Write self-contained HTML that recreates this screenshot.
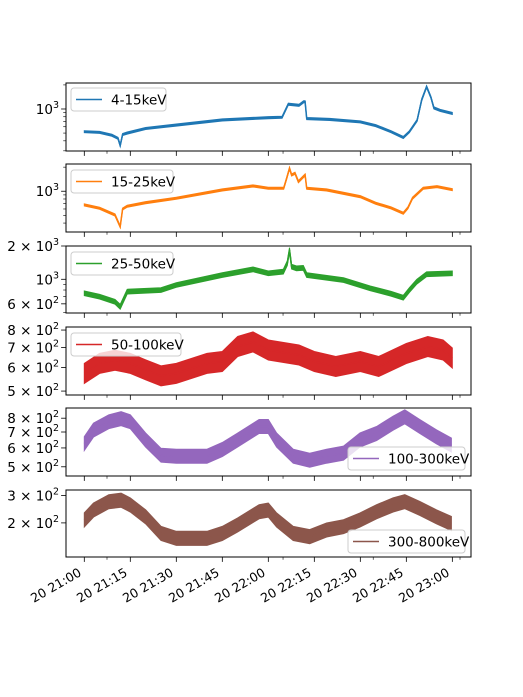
<!DOCTYPE html>
<html><head><meta charset="utf-8"><style>
html,body{margin:0;padding:0;background:#fff;}
svg{display:block;font-family:"DejaVu Sans","Liberation Sans",sans-serif;}
</style></head><body>
<svg id="chart" width="523" height="697" viewBox="0 0 523 697" xmlns="http://www.w3.org/2000/svg"></svg>
<script>
// ---- data (time in minutes after 20 21:00) ----
const t4_15 = [0,5,9,11,11.7,12.5,14,20,30,45,60,64.5,66.5,70,71.5,72,72.5,80,90,95,100,104,106,108.5,110,111.6,113,114,116,120];
const v4_15 = [520,510,470,430,350,480,500,570,630,730,780,790,1150,1110,1230,1230,760,740,690,620,520,440,520,720,1300,1900,1400,1030,960,880];
const t15_25 = [0,5,10,11.7,12.5,14,20,30,45,55,60,65,66,66.9,67.6,68.7,69.8,72,72.5,79,90,95,100,104,105.5,107,110.5,115,120];
const v15_25 = [674,613,505,361,600,650,720,818,1038,1165,1090,1090,1454,1937,1598,1679,1318,1598,1090,1038,856,708,620,531,620,818,1090,1142,1047];
const t25_50 = [0,5,10,11.7,14,25,30,45,55,60,64.9,66.2,66.9,67.6,69.2,71.4,72.5,84.5,93.2,100,104,106,108.4,111.6,120];
const v25_50 = [747,696,627,565,773,800,888,1093,1231,1133,1172,1400,1840,1300,1257,1270,1093,985,829,740,682,800,951,1110,1133];
const t50_100 = [0,5,10,15,20,25,30,40,45,50,55,60,70,75,82,90,96,105,112,117,120];
const v50_100 = [573,619,634,619,589,562,573,619,628,705,730,686,660,628,604,628,604,668,705,686,645];
const t100_300 = [0,3,8,12,15,20,25,30,40,45,50,57,60,62.7,68.1,73.5,79,84.5,89.9,95.3,100.7,104.5,109.4,114.8,119.7];
const v100_300 = [626,713,773,797,773,648,559,554,554,591,648,738,738,648,554,533,554,571,648,690,762,811,738,668,617];
const t300_800 = [0,3,8,12,15,20,25,30,40,45,50,57,60,62.7,68.1,73.5,79,84.5,89.9,95.3,100.7,104.5,109.4,114.8,119.7];
const v300_800 = [209,242,274,280,261,219,171,159,159,171,194,236,242,209,171,163,180,189,209,236,261,274,248,219,198];
const noise = [0.03,0.03,0.05,0.08,0.07,0.11];
const seriesLabels = ["4-15keV","15-25keV","25-50keV","50-100keV","100-300keV","300-800keV"];
const xTickMinutes = [0,15,30,45,60,75,90,105,120];
const xTickLabels = ["20 21:00","20 21:15","20 21:30","20 21:45","20 22:00","20 22:15","20 22:30","20 22:45","20 23:00"];
const xMinorMinutes = [7.4,64.8,94.2,122.5];

const NS="http://www.w3.org/2000/svg";
const svg=document.getElementById('chart');
function mk(tag,attrs,parent){const e=document.createElementNS(NS,tag);for(const k in attrs)e.setAttribute(k,attrs[k]);(parent||svg).appendChild(e);return e;}

const X0=66,X1=471;
function xs(t){return 84.3+t*3.067;}
const panels=[
 {top:83,bot:151,ymax:2113,k:80,color:"#1f77b4",t:t4_15,v:v4_15,leg:{x:71,y:88,w:95},
  ticks:[[1000,"10","3"]],minor:[300,400,500,600,700,800,900,2000]},
 {top:164,bot:232,ymax:2190,k:80,color:"#ff7f0e",t:t15_25,v:v15_25,leg:{x:71,y:170,w:102},
  ticks:[[1000,"10","3"]],minor:[400,500,600,700,800,900,2000]},
 {top:246,bot:313,ymax:2000,k:110.6,color:"#2ca02c",t:t25_50,v:v25_50,leg:{x:71,y:252,w:102},
  ticks:[[2000,"2 \u00d7 10","3"],[1000,"10","3"],[600,"6 \u00d7 10","2"]],minor:[500,700,800,900]},
 {top:327,bot:395,ymax:819,k:299,color:"#d62728",t:t50_100,v:v50_100,leg:{x:71,y:333,w:110},
  ticks:[[800,"8 \u00d7 10","2"],[700,"7 \u00d7 10","2"],[600,"6 \u00d7 10","2"],[500,"5 \u00d7 10","2"]],minor:[]},
 {top:408,bot:476,ymax:883,k:238,color:"#9467bd",t:t100_300,v:v100_300,leg:{x:348,y:447,w:117},
  ticks:[[800,"8 \u00d7 10","2"],[700,"7 \u00d7 10","2"],[600,"6 \u00d7 10","2"],[500,"5 \u00d7 10","2"]],minor:[]},
 {top:490,bot:557,ymax:326,k:155,color:"#8c564b",t:t300_800,v:v300_800,leg:{x:348,y:530,w:117},
  ticks:[[300,"3 \u00d7 10","2"],[200,"2 \u00d7 10","2"]],minor:[]}
];

panels.forEach((p,i)=>{
  const ys=v=>p.top+(Math.log10(p.ymax)-Math.log10(v))*p.k;
  const g=mk('g',{});
  
  
  const clipId='clip'+i;
  const cp=mk('clipPath',{id:clipId},g);mk('rect',{x:X0,y:p.top,width:X1-X0,height:p.bot-p.top},cp);
  const s=noise[i];
  let up=[],dn=[],ctr=[];
  for(let j=0;j<p.t.length;j++){const x=xs(p.t[j]);up.push(x.toFixed(1)+','+ys(p.v[j]*(1+s)).toFixed(1));dn.unshift(x.toFixed(1)+','+ys(p.v[j]/(1+s)).toFixed(1));ctr.push(x.toFixed(1)+','+ys(p.v[j]).toFixed(1));}
  const band=mk('polygon',{points:up.concat(dn).join(' '),fill:p.color,stroke:p.color,'stroke-width':1,'clip-path':'url(#'+clipId+')'},g);
  
  
  const line=mk('polyline',{points:ctr.join(' '),fill:'none',stroke:p.color,'stroke-width':1.5,'clip-path':'url(#'+clipId+')'},g);
  
  
  const fr=mk('rect',{x:X0,y:p.top,width:X1-X0,height:p.bot-p.top,fill:'none',stroke:'#000','stroke-width':1},g);
  
  
  xTickMinutes.forEach(m=>{mk('line',{x1:xs(m),x2:xs(m),y1:p.bot,y2:p.bot+4.9,stroke:'#000','stroke-width':0.8},g);});
  xMinorMinutes.forEach(m=>{mk('line',{x1:xs(m),x2:xs(m),y1:p.bot,y2:p.bot+2.8,stroke:'#000','stroke-width':0.6},g);});
  p.ticks.forEach(tk=>{
    const y=ys(tk[0]);
    mk('line',{x1:X0-4.9,x2:X0,y1:y,y2:y,stroke:'#000','stroke-width':0.8},g);
    const tx=mk('text',{x:X0-7,y:y+5,'text-anchor':'end','font-size':13.5,fill:'#000'},g);
    
    
    tx.appendChild(document.createTextNode(tk[1]));
    const sup=mk('tspan',{'font-size':9.5,dy:-6},tx);sup.textContent=tk[2];
  });
  p.minor.forEach(v=>{const y=ys(v);if(y>p.top&&y<p.bot)mk('line',{x1:X0-2.8,x2:X0,y1:y,y2:y,stroke:'#000','stroke-width':0.6},g);});
  const L=p.leg;
  const lg=mk('g',{},g);
  
  
  mk('rect',{x:L.x,y:L.y,width:L.w,height:23,rx:3,fill:'#fff','fill-opacity':0.8,stroke:'#ccc','stroke-width':1},lg);
  mk('line',{x1:L.x+5,x2:L.x+31,y1:L.y+11.5,y2:L.y+11.5,stroke:p.color,'stroke-width':1.5},lg);
  const lt=mk('text',{x:L.x+40,y:L.y+16.5,'font-size':13.5,fill:'#000'},lg);lt.textContent=seriesLabels[i];
});
const last=panels[panels.length-1];
xTickMinutes.forEach((m,i)=>{
  const x=xs(m)-2,y=last.bot+18;
  const t=mk('text',{x:x,y:y,'text-anchor':'end','font-size':12.5,fill:'#000',transform:'rotate(-30 '+x+' '+y+')'});
  
  
  t.textContent=xTickLabels[i];
});
</script>
</body></html>
